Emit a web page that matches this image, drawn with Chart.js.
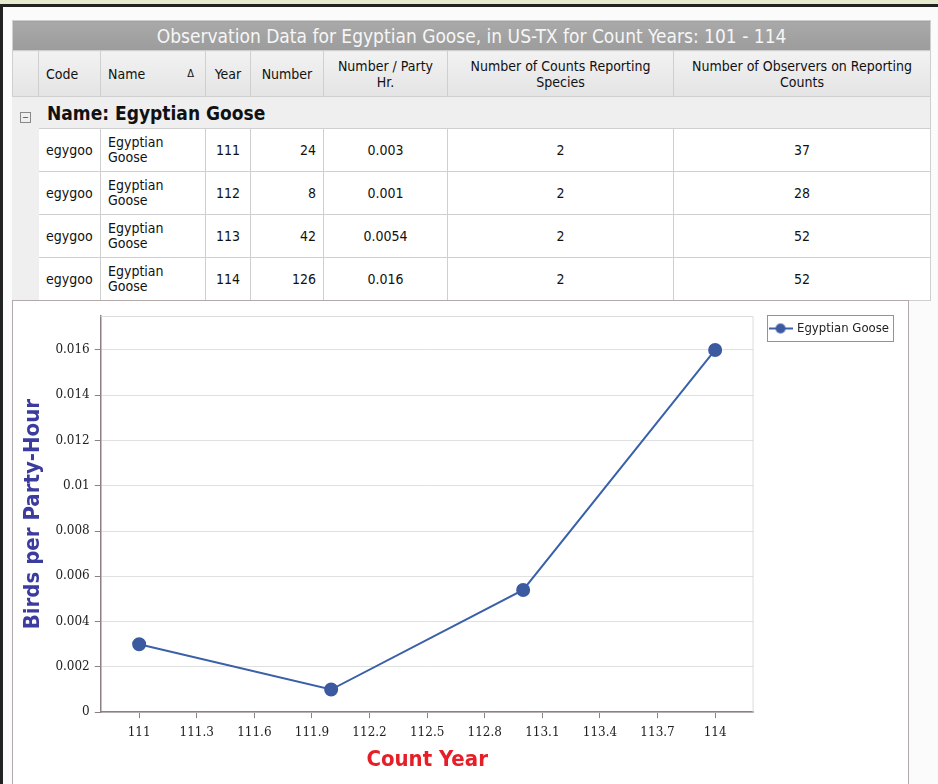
<!DOCTYPE html>
<html>
<head>
<meta charset="utf-8">
<script src="https://cdn.jsdelivr.net/npm/chart.js@4/dist/chart.umd.min.js"></script>
<style>
  html, body { margin: 0; padding: 0; }
  body { width: 938px; height: 784px; background: #e6eacf; position: relative; overflow: hidden;
         font-family: "DejaVu Sans Condensed", "Liberation Sans Narrow", "DejaVu Sans", sans-serif; }
  .frame { position: absolute; left: 0; top: 4px; width: 940px; height: 790px;
           border-top: 3px solid #222; border-left: 3px solid #222; background: #fbfbfb; }
  table.grid { position: absolute; left: 12px; top: 20px; width: 918px; border-collapse: collapse;
               table-layout: fixed; font-size: 14px; color: #111; }
  table.grid td, table.grid th { border: 1px solid #cfcfcf; padding: 0 7px; overflow: hidden; }
  .title th { height: 29px; background: linear-gradient(#a9a9a9, #9c9c9c); color: #f6f6f6;
              font-weight: normal; font-size: 19px; border-color: #a0a0a0; white-space: nowrap; }
  .head th { height: 45px; background: linear-gradient(#f2f2f2, #e4e4e4); font-weight: normal;
             line-height: 16px; text-align: center; padding: 0 4px; }
  .head th.l { text-align: left; padding-left: 7px; }
  .group td { height: 31px; background: #efefef; font-weight: bold; font-size: 19px; }
  .row td { height: 42px; background: #fff; line-height: 15px; }
  .row td.blank, .group td.blank { background: #efefef; border-color: #efefef; }
  .c { text-align: center; }
  .r { text-align: right; }
  .tri { float: right; font-size: 11px; margin-right: 4px; }
  .minus { display: inline-block; width: 9px; height: 9px; border: 1px solid #888; font-size: 9px;
           line-height: 8px; text-align: center; font-weight: normal; color: #444; }
  .panel { position: absolute; left: 12px; top: 300px; width: 895px; height: 490px;
           border: 1px solid #b3a9a9; background: #fff; }
  .chart-box { position: absolute; left: 0; top: 0; width: 895px; height: 483px; }
</style>
</head>
<body>
<div class="frame"></div>
<table class="grid" id="grid">
  <colgroup>
    <col style="width:26px"><col style="width:62px"><col style="width:105px"><col style="width:45px">
    <col style="width:73px"><col style="width:124px"><col style="width:226px"><col style="width:257px">
  </colgroup>
  <tr class="title"><th colspan="8">Observation Data for Egyptian Goose, in US-TX for Count Years: 101 - 114</th></tr>
  <tr class="head">
    <th></th><th class="l">Code</th><th class="l">Name <span class="tri">&#916;</span></th><th>Year</th>
    <th>Number</th><th>Number / Party<br>Hr.</th><th>Number of Counts Reporting<br>Species</th>
    <th>Number of Observers on Reporting<br>Counts</th>
  </tr>
  <tr class="group"><td class="blank"><span class="minus">&#8722;</span></td><td colspan="7" style="padding-left:8px">Name: Egyptian Goose</td></tr>
</table>
<div class="panel">
  <div class="chart-box"><canvas id="chart"></canvas></div>
</div>
<script>
// table values
const codes = ['egygoo', 'egygoo', 'egygoo', 'egygoo'];
const names = ['Egyptian Goose', 'Egyptian Goose', 'Egyptian Goose', 'Egyptian Goose'];
const years = [111, 112, 113, 114];
const numbers = [24, 8, 42, 126];
const perPartyHour = [0.003, 0.001, 0.0054, 0.016];
const countsReporting = [2, 2, 2, 2];
const observers = [37, 28, 52, 52];

// axis ticks
const xTickValues = [111, 111.3, 111.6, 111.9, 112.2, 112.5, 112.8, 113.1, 113.4, 113.7, 114];
const yTickValues = [0, 0.002, 0.004, 0.006, 0.008, 0.01, 0.012, 0.014, 0.016];
const seriesName = 'Egyptian Goose';

// fill the data rows
const grid = document.getElementById('grid');
years.forEach((yr, i) => {
    const tr = document.createElement('tr');
    tr.className = 'row';
    tr.innerHTML =
        '<td class="blank"></td>' +
        '<td>' + codes[i] + '</td>' +
        '<td>' + names[i].replace(' ', '<br>') + '</td>' +
        '<td class="c">' + yr + '</td>' +
        '<td class="r">' + numbers[i] + '</td>' +
        '<td class="c">' + perPartyHour[i] + '</td>' +
        '<td class="c">' + countsReporting[i] + '</td>' +
        '<td class="c">' + observers[i] + '</td>';
    grid.appendChild(tr);
});

const lineColor = '#3b60aa';
const dotColor = '#3c5a9f';
const axisColor = '#8c8080';

// legend symbol: short line with a dot in the middle
const legendIcon = document.createElement('canvas');
legendIcon.width = 24;
legendIcon.height = 12;
(function () {
    const c = legendIcon.getContext('2d');
    c.strokeStyle = lineColor;
    c.lineWidth = 2;
    c.beginPath();
    c.moveTo(0, 6);
    c.lineTo(24, 6);
    c.stroke();
    c.fillStyle = dotColor;
    c.beginPath();
    c.arc(12, 6, 5, 0, Math.PI * 2);
    c.fill();
})();

// light frame round the plot area and a box round the legend
const framePlugin = {
    id: 'frames',
    afterLayout(chart) {
        // lift the legend up to the top of the plot
        chart.legend.top -= 11;
        chart.legend.bottom -= 11;
    },
    beforeDatasetsDraw(chart) {
        const a = chart.chartArea;
        const ctx = chart.ctx;
        ctx.save();
        ctx.strokeStyle = '#dcdcdc';
        ctx.lineWidth = 1;
        ctx.beginPath();
        ctx.moveTo(a.left, a.top + 0.5);
        ctx.lineTo(a.right - 0.5, a.top + 0.5);
        ctx.lineTo(a.right - 0.5, a.bottom);
        ctx.stroke();
        ctx.restore();
    },
    afterDraw(chart) {
        const b = chart.legend.legendHitBoxes[0];
        if (!b) return;
        const ctx = chart.ctx;
        ctx.save();
        ctx.strokeStyle = '#9a9090';
        ctx.lineWidth = 1;
        ctx.strokeRect(Math.round(b.left - 4) + 0.5, Math.round(b.top - 7) + 0.5,
            Math.round(b.width + 8), Math.round(b.height + 13));
        ctx.restore();
    }
};

new Chart(document.getElementById('chart'), {
    type: 'line',
    data: {
        datasets: [{
            label: seriesName,
            data: years.map((x, i) => ({ x: x, y: perPartyHour[i] })),
            borderColor: lineColor,
            borderWidth: 2,
            backgroundColor: dotColor,
            pointBackgroundColor: dotColor,
            pointBorderColor: dotColor,
            pointRadius: 6,
            tension: 0
        }]
    },
    options: {
        responsive: true,
        maintainAspectRatio: false,
        animation: false,
        layout: { padding: { left: 7, top: 15, right: 9, bottom: 11 } },
        plugins: {
            legend: {
                position: 'right',
                align: 'start',
                labels: {
                    usePointStyle: true,
                    pointStyle: legendIcon,
                    pointStyleWidth: 20,
                    color: '#222',
                    font: { family: 'DejaVu Sans Condensed, DejaVu Sans', size: 13 },
                    padding: 17
                }
            },
            tooltip: { enabled: false }
        },
        scales: {
            x: {
                type: 'linear',
                min: 110.8,
                max: 114.2,
                afterBuildTicks: (scale) => { scale.ticks = xTickValues.map(v => ({ value: v })); },
                ticks: {
                    autoSkip: false,
                    maxRotation: 0,
                    color: '#222',
                    padding: 7,
                    font: { family: 'DejaVu Serif', size: 12 },
                    callback: (v) => String(+v.toFixed(1))
                },
                grid: { drawOnChartArea: false, tickLength: 6, tickColor: axisColor },
                border: { color: axisColor, width: 1.5 },
                title: {
                    display: true,
                    text: 'Count Year',
                    color: '#e61e28',
                    font: { family: 'DejaVu Sans Condensed, DejaVu Sans', size: 22, weight: 'bold' },
                    padding: { top: 0, bottom: 0 }
                }
            },
            y: {
                min: 0,
                max: 0.0175,
                afterBuildTicks: (scale) => { scale.ticks = yTickValues.map(v => ({ value: v })); },
                ticks: {
                    color: '#222',
                    padding: 5,
                    font: { family: 'DejaVu Serif', size: 12 },
                    callback: (v) => String(+v.toFixed(4))
                },
                grid: { color: '#e0e0e0', tickLength: 6, tickColor: axisColor },
                border: { color: axisColor, width: 1.5 },
                title: {
                    display: true,
                    text: 'Birds per Party-Hour',
                    color: '#3c3c9e',
                    font: { family: 'DejaVu Sans Condensed, DejaVu Sans', size: 22, weight: 'bold' },
                    padding: { top: 0, bottom: 4 }
                }
            }
        }
    },
    plugins: [framePlugin]
});
</script>
</body>
</html>
